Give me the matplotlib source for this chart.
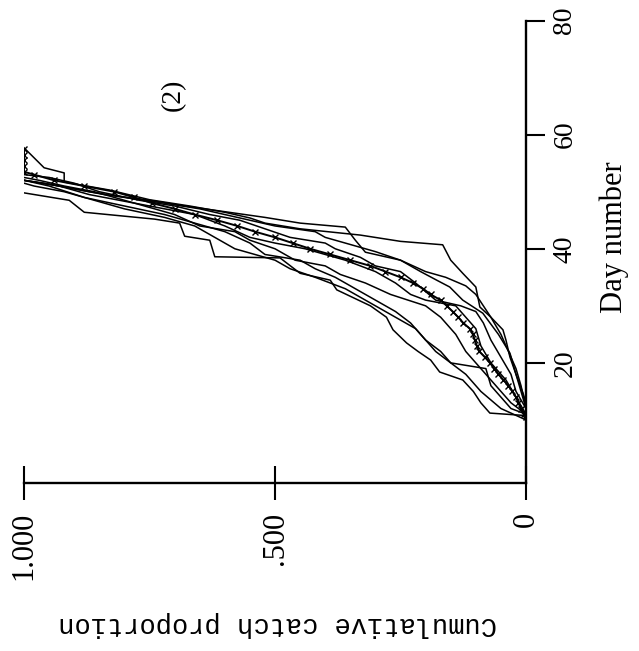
import matplotlib
import matplotlib.figure
from matplotlib.backends import backend_agg as agg

# cumulative catch proportion by day for each trap series
days_1 = [10, 10.8, 11.2, 13, 15, 17, 18.4, 20.5, 22, 23.5, 25.8, 28, 30, 32.8,
          34.5, 35.7, 38.4, 38.6, 41.5, 42.2, 44.5, 45.2, 46.4, 48.5, 49.8]
prop_1 = [0, 0.006, 0.072, 0.09, 0.105, 0.126, 0.172, 0.19, 0.215, 0.238, 0.265,
          0.278, 0.31, 0.377, 0.39, 0.45, 0.49, 0.62, 0.63, 0.68, 0.69, 0.74,
          0.88, 0.91, 1.0]

days_2 = [10, 12, 15, 18, 20, 22, 24, 27, 29, 31, 33, 35, 36.5, 38, 39, 41, 43,
          44.5, 46, 47.5, 49, 51, 52]
prop_2 = [0, 0.05, 0.09, 0.12, 0.15, 0.18, 0.2, 0.23, 0.26, 0.3, 0.34, 0.38,
          0.42, 0.45, 0.52, 0.55, 0.6, 0.66, 0.72, 0.8, 0.88, 0.95, 1.0]

days_3 = [11, 13, 16, 19, 22, 25, 28, 30, 32, 34, 35.5, 37, 38, 40, 41.5, 43,
          44, 46, 48, 49.5, 51, 52]
prop_3 = [0, 0.03, 0.06, 0.09, 0.12, 0.14, 0.17, 0.2, 0.27, 0.32, 0.37, 0.4,
          0.46, 0.5, 0.55, 0.58, 0.65, 0.7, 0.78, 0.87, 0.93, 1.0]

days_4 = [11, 14, 17, 20, 23, 26, 28, 30, 31, 32, 34, 36, 38, 40, 41, 42, 44,
          46, 47, 48, 50, 51, 52, 52.5]
prop_4 = [0, 0.02, 0.04, 0.07, 0.09, 0.1, 0.12, 0.14, 0.2, 0.23, 0.26, 0.3,
          0.36, 0.44, 0.5, 0.55, 0.6, 0.66, 0.72, 0.78, 0.86, 0.92, 0.97, 1.0]

days_5 = [12, 15, 18, 21, 24, 27, 29, 30, 31, 32.5, 34, 36, 37, 38.5, 40, 41,
          42, 43.5, 45, 46, 47.5, 48.5, 50, 51.5, 52.5, 53]
prop_5 = [0, 0.02, 0.03, 0.05, 0.07, 0.085, 0.1, 0.13, 0.18, 0.2, 0.22, 0.25,
          0.3, 0.33, 0.38, 0.4, 0.47, 0.52, 0.57, 0.63, 0.7, 0.77, 0.85, 0.9,
          0.95, 1.0]

days_6 = [12, 16, 19, 22, 25, 28, 30, 32, 33.5, 35, 36, 38, 39.5, 41, 42, 43,
          44, 45, 46, 47, 48, 49, 50, 51, 52]
prop_6 = [0, 0.01, 0.02, 0.035, 0.05, 0.07, 0.085, 0.1, 0.12, 0.16, 0.2, 0.25,
          0.3, 0.36, 0.4, 0.42, 0.5, 0.55, 0.6, 0.65, 0.72, 0.8, 0.87, 0.93, 1.0]

days_7 = [13, 14.7, 18, 21, 24, 25.8, 28, 29.8, 33.3, 35.7, 38, 40.7, 41.3,
          42.4, 43.5, 44.5, 45.4, 46.4, 47.5, 48.6, 50.3, 51.7, 53.3, 54.2, 57.7]
prop_7 = [0, 0.006, 0.02, 0.032, 0.04, 0.046, 0.07, 0.092, 0.1, 0.126, 0.15,
          0.166, 0.25, 0.33, 0.45, 0.52, 0.55, 0.6, 0.67, 0.75, 0.83, 0.92,
          0.92, 0.96, 1.0]

days_8 = [12, 15, 18, 21.7, 25, 28.7, 31, 33.3, 34.5, 36, 38, 39.4, 41.5, 43.8,
          44.5, 45.5, 46.5, 47.5, 48.5, 49.5, 50.5, 51.5, 52]
prop_8 = [0, 0.01, 0.02, 0.032, 0.055, 0.086, 0.126, 0.152, 0.178, 0.21, 0.25,
          0.32, 0.34, 0.36, 0.45, 0.52, 0.6, 0.68, 0.75, 0.84, 0.9, 0.96, 1.0]

days_9 = [11, 12, 14, 16, 19, 20, 22, 24, 26, 28, 30, 31.5, 33, 35, 36.5, 38,
          39, 40, 42, 44, 45.5, 47, 48.5, 50, 51, 51.5]
prop_9 = [0, 0.03, 0.05, 0.07, 0.08, 0.15, 0.17, 0.2, 0.22, 0.26, 0.3, 0.33,
          0.36, 0.42, 0.47, 0.5, 0.54, 0.58, 0.62, 0.66, 0.72, 0.8, 0.86, 0.92,
          0.98, 1.0]

# pooled series, drawn with markers
days_all = [10.5, 11, 12, 13, 14, 15, 16, 17, 18, 19, 20, 21, 22, 23, 24, 25,
            26, 27, 28, 29, 30, 31, 32, 33, 34, 35, 36, 37, 38, 39, 40, 41, 42,
            43, 44, 45, 46, 47, 48, 49, 50, 51, 52, 53, 53.5, 54.5, 55.5, 56.5,
            57.5]
prop_all = [0.0, 0.005, 0.01, 0.015, 0.02, 0.027, 0.035, 0.045, 0.055, 0.063,
            0.072, 0.082, 0.093, 0.098, 0.102, 0.106, 0.112, 0.125, 0.135,
            0.146, 0.158, 0.17, 0.19, 0.205, 0.225, 0.25, 0.28, 0.31, 0.35,
            0.39, 0.43, 0.465, 0.5, 0.54, 0.575, 0.615, 0.66, 0.7, 0.745, 0.78,
            0.82, 0.88, 0.94, 0.98, 1.0, 1.0, 1.0, 1.0, 1.0]

series = [(days_1, prop_1), (days_2, prop_2), (days_3, prop_3),
          (days_4, prop_4), (days_5, prop_5), (days_6, prop_6),
          (days_7, prop_7), (days_8, prop_8), (days_9, prop_9)]

prop_ticks = [1.0, 0.5, 0.0]
prop_labels = ["1.000", ".500", "0"]
day_ticks = [20, 40, 60, 80]

fig = matplotlib.figure.Figure(figsize=(6.39, 6.51), dpi=100)
agg.FigureCanvasAgg(fig)
ax = fig.add_axes([0.0376, 0.2581, 0.7856, 0.7103])

# page is turned on its side: proportion runs right-to-left, day runs up
for d, p in series:
    ax.plot(p, d, '-', color='k', linewidth=1.1)
ax.plot(prop_all, days_all, '-', color='k', linewidth=1.4,
        marker='x', markersize=4, markeredgewidth=1.0)

ax.set_xlim(1.0, 0.0)
ax.set_ylim(-1.05, 80)

for side in ('top', 'left'):
    ax.spines[side].set_visible(False)
for side in ('bottom', 'right'):
    ax.spines[side].set_linewidth(1.7)

serif = ['Liberation Serif', 'DejaVu Serif']
mono = ['Liberation Mono', 'DejaVu Sans Mono']

ax.yaxis.tick_right()
ax.set_yticks(day_ticks)
ax.set_yticklabels([str(t) for t in day_ticks], family=serif, fontsize=20)
ax.tick_params(axis='y', direction='out', length=14, width=1.5, pad=5,
               labelrotation=90)
for lab in ax.get_yticklabels():
    lab.set_verticalalignment('center')

ax.set_xticks(prop_ticks)
ax.set_xticklabels(prop_labels, family=serif, fontsize=22)
ax.tick_params(axis='x', direction='inout', length=24, width=1.5, pad=9,
               labelrotation=90)

fig.text(0.961, 0.636, "Day number", rotation=90, ha='center', va='center',
         family=serif, fontsize=22)
fig.text(0.435, 0.0415, "Cumulative catch proportion", rotation=180,
         ha='center', va='center', family=mono, fontsize=19.5)
fig.text(0.271, 0.854, "(2)", rotation=90, ha='center', va='center',
         family=serif, fontsize=20)

fig.savefig("out.png")
